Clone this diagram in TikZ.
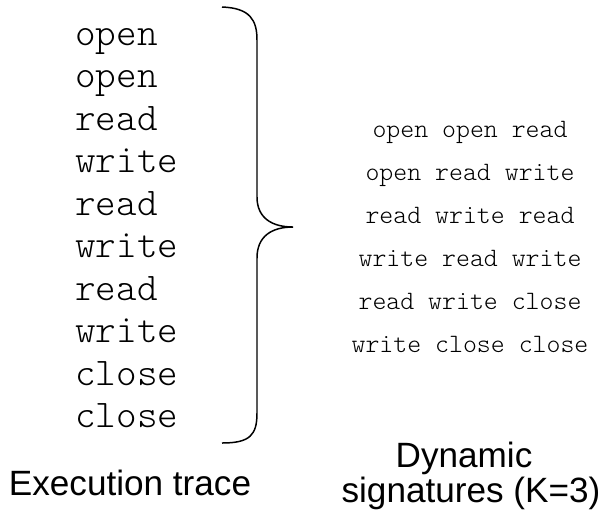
\documentclass[tikz,border=0pt]{standalone}
\usepackage{fontspec}
\setmainfont{Liberation Sans}
\newfontfamily\tracefont{Latin Modern Mono Light}
\usetikzlibrary{positioning}

\begin{document}
\begin{tikzpicture}[
  x=0.02cm, y=-0.02cm,
  call/.style={font=\tracefont\fontsize{22.3}{26}\selectfont, anchor=base west, inner sep=0pt},
  window/.style={font=\tracefont\fontsize{15.1}{18}\selectfont, anchor=base, inner sep=0pt},
  caption/.style={font=\fontsize{20}{24}\selectfont, anchor=base, inner sep=0pt}
]
\useasboundingbox (0,0) rectangle (602,512);
% execution trace, one call per line
\foreach \name [count=\i] in {open,open,read,write,read,write,read,write,close,close}
  \node[call] (t\i) at (75,{45+(\i-1)*42.5}) {\name};
% brace grouping the trace
\draw[line width=0.85pt]
  (222,7) .. controls (250,8) and (257,20) .. (257,40) -- (257,197)
  .. controls (257,218) and (272,227) .. (293,227)
  .. controls (272,227) and (257,236) .. (257,258) -- (257,413)
  .. controls (257,435) and (250,443) .. (222,443);
% sliding windows of length 3
\foreach \sigtext [count=\i] in {open open read,open read write,read write read,
    write read write,read write close,write close close}
  \node[window] (s\i) at (470,{137+(\i-1)*43}) {\sigtext};
% captions
\node[caption] (trace) at (130,495) {Execution trace};
\node[caption] (dyn) at (464,467) {Dynamic};
\node[caption] (sigs) at (471,502) {signatures (K=3)};
\end{tikzpicture}
\end{document}
